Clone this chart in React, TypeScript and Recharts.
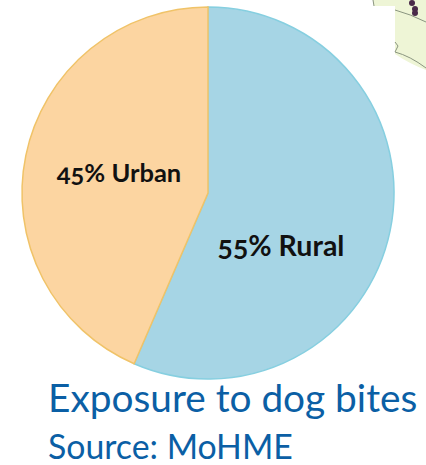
import { Pie, PieChart } from "recharts";

const sliceNames = ["Rural", "Urban"];
const sliceValues = [56.5, 43.5];
const sliceLabels = ["55% Rural", "45% Urban"];
const sliceFills = ["#A6D5E5", "#FCD5A1"];
const sliceStrokes = ["#86CFE0", "#F0C368"];
const labelOffsets = [
  { dx: 73, dy: 63, size: 28.5 },
  { dx: -89, dy: -11, size: 25.5 },
];

const data = sliceNames.map((name, i) => ({
  name,
  value: sliceValues[i],
  fill: sliceFills[i],
  stroke: sliceStrokes[i],
}));

const FONT = "Lato, sans-serif";

function renderLabel(props: any) {
  const off = labelOffsets[props.index];
  return (
    <text
      x={props.cx + off.dx}
      y={props.cy + off.dy}
      textAnchor="middle"
      fill="#111111"
      fontFamily={FONT}
      fontSize={off.size}
      fontWeight={700}
      style={{ fontFeatureSettings: '"onum"' }}
    >
      {sliceLabels[props.index]}
    </text>
  );
}

export default function App() {
  return (
    <div style={{ position: "absolute", left: 0, top: 0, width: 426, height: 465, background: "#fff", overflow: "hidden" }}>
      {/* scrap of map left in the corner of the slide */}
      <svg width={426} height={465} style={{ position: "absolute", left: 0, top: 0 }}>
        <path d="M373 0 L426 0 L426 70 Q410 64 395 54 L395 6 L374 6 Z" fill="#EEF5D6" />
        <path d="M395 10 Q410 14 426 22" fill="none" stroke="#8a9580" strokeWidth={1} />
        <path d="M395 42 L398 46 L395 52 Q410 56 426 68" fill="none" stroke="#8a9580" strokeWidth={1} />
        <path d="M373 0 L374 6" fill="none" stroke="#8a9580" strokeWidth={1} />
        <circle cx={412} cy={3} r={3} fill="#4a2a4a" />
        <circle cx={415} cy={9} r={3} fill="#4a2a4a" />
        <circle cx={415} cy={13} r={3} fill="#4a2a4a" />
      </svg>
      <div style={{ position: "absolute", left: 0, top: 0 }}>
        <PieChart width={426} height={386} margin={{ top: 0, right: 0, bottom: 0, left: 0 }}>
          <Pie
            data={data}
            dataKey="value"
            nameKey="name"
            cx={208}
            cy={193}
            innerRadius={0}
            outerRadius={186}
            startAngle={90}
            endAngle={-270}
            strokeWidth={1.5}
            label={renderLabel}
            labelLine={false}
            isAnimationActive={false}
          />
        </PieChart>
      </div>
      <svg width={426} height={465} style={{ position: "absolute", left: 0, top: 0 }}>
        <text x={48} y={412} fill="#0B5FA5" fontFamily={FONT} fontSize={38.8}>Exposure to dog bites</text>
        <text x={48} y={458.5} fill="#0B5FA5" fontFamily={FONT} fontSize={33.8}>Source: MoHME</text>
      </svg>
    </div>
  );
}
